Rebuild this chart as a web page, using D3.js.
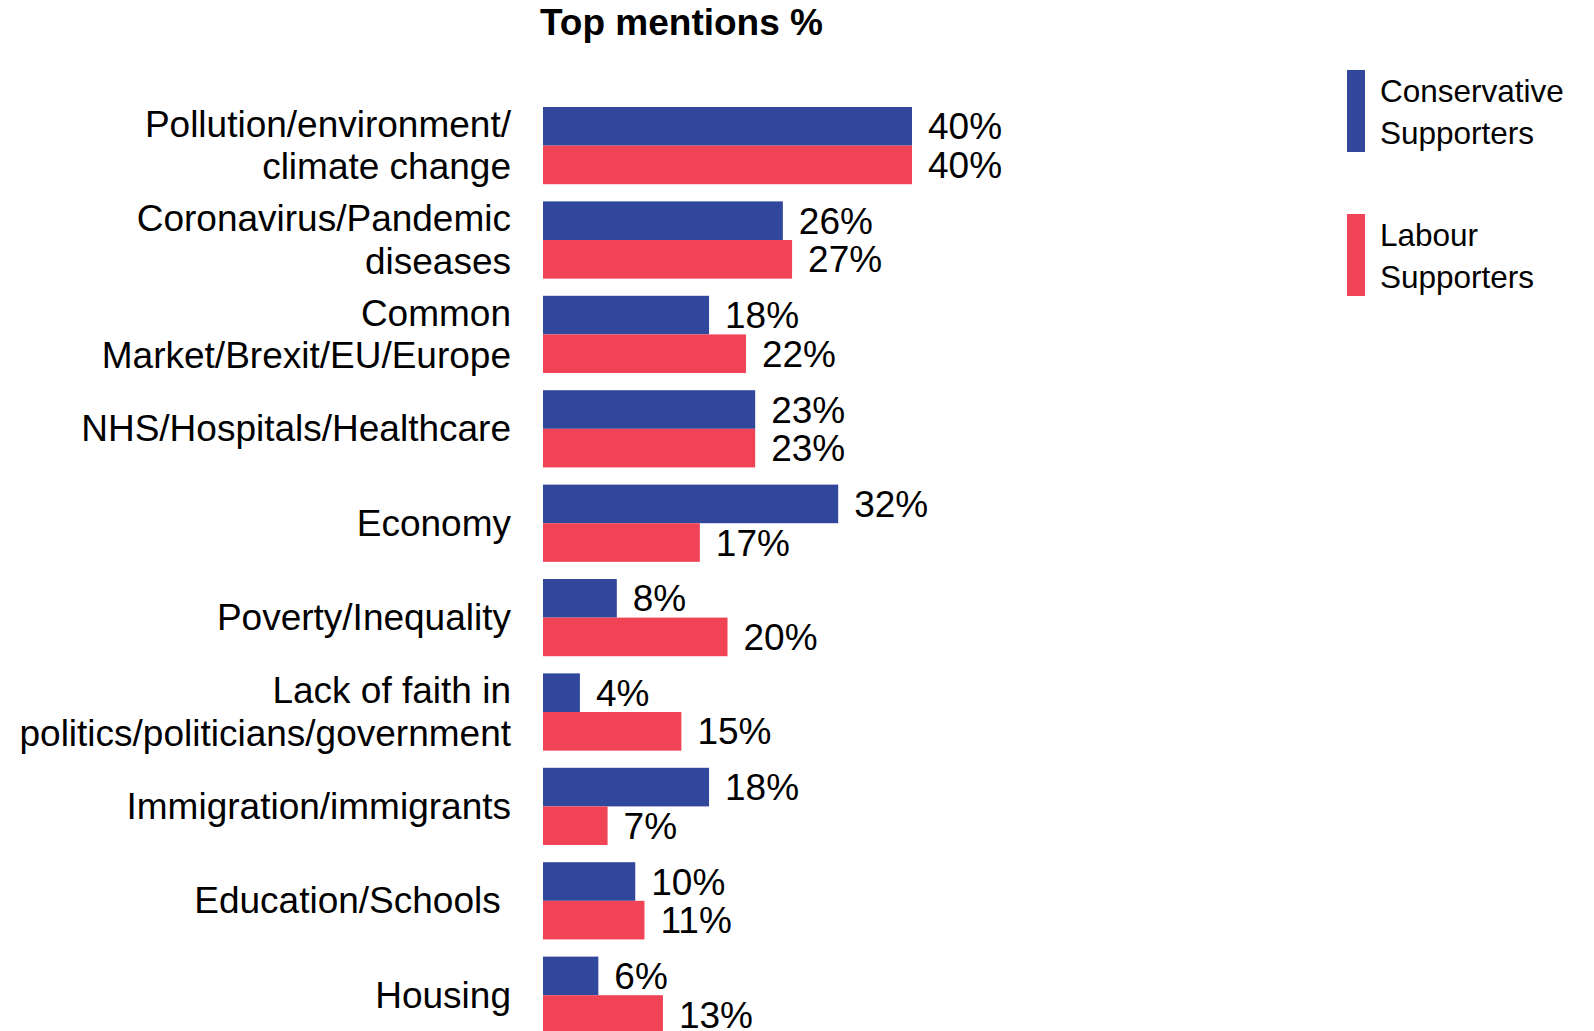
<!DOCTYPE html>
<html>
<head>
<meta charset="utf-8">
<script src="https://cdn.jsdelivr.net/npm/d3@7"></script>
<style>
  html, body { margin: 0; padding: 0; background: #ffffff; }
  svg { display: block; font-family: Arial, "Liberation Sans", sans-serif; }
  text { white-space: pre; }
</style>
</head>
<body>
<svg id="chart" width="1594" height="1031"></svg>
<script>
const categories = [
  ["Pollution/environment/", "climate change"],
  ["Coronavirus/Pandemic", "diseases"],
  ["Common", "Market/Brexit/EU/Europe"],
  ["NHS/Hospitals/Healthcare"],
  ["Economy"],
  ["Poverty/Inequality"],
  ["Lack of faith in", "politics/politicians/government"],
  ["Immigration/immigrants"],
  ["Education/Schools "],
  ["Housing"]
];
const seriesNames = ["Conservative Supporters", "Labour Supporters"];
const legendLines = [["Conservative", "Supporters"], ["Labour", "Supporters"]];
const conservative = [40, 26, 18, 23, 32, 8, 4, 18, 10, 6];
const labour = [40, 27, 22, 23, 17, 20, 15, 7, 11, 13];
const colors = ["#30479B", "#F04356"];
const title = "Top mentions %";

const svg = d3.select("#chart");
const keys = categories.map((c, i) => i);
const values = [conservative, labour];

const x = d3.scaleLinear().domain([0, 40]).range([543, 912]);
const pad = 0.182;
const step = 94.4;
const y0 = d3.scaleBand().domain(keys)
  .range([107 - pad / 2 * step, 107 - pad / 2 * step + 10 * step])
  .paddingInner(pad).paddingOuter(pad / 2);
const y1 = d3.scaleBand().domain([0, 1]).range([0, y0.bandwidth()]);

// title
svg.append("text")
  .attr("x", 540).attr("y", 35)
  .attr("font-size", 37).attr("font-weight", "bold").attr("fill", "#000")
  .text(title);

// bars and value labels
const groups = svg.selectAll("g.grp").data(keys).join("g")
  .attr("class", "grp")
  .attr("transform", d => `translate(0,${y0(d)})`);

groups.selectAll("rect").data(d => [0, 1].map(s => ({ s, v: values[s][d] }))).join("rect")
  .attr("x", x(0))
  .attr("y", d => y1(d.s))
  .attr("width", d => x(d.v) - x(0))
  .attr("height", y1.bandwidth())
  .attr("fill", d => colors[d.s]);

groups.selectAll("text.val").data(d => [0, 1].map(s => ({ s, v: values[s][d] }))).join("text")
  .attr("class", "val")
  .attr("x", d => x(d.v) + 16)
  .attr("y", d => y1(d.s) + y1.bandwidth() / 2 + 13)
  .attr("font-size", 37).attr("fill", "#000")
  .text(d => d.v + "%");

// category labels
const lineH = 42.5;
groups.each(function (d) {
  const lines = categories[d];
  const g = d3.select(this);
  const c = y0.bandwidth() / 2;
  lines.forEach((ln, j) => {
    g.append("text")
      .attr("x", 511)
      .attr("y", c + (j - (lines.length - 1) / 2) * lineH + 12.5)
      .attr("text-anchor", "end")
      .attr("font-size", 37).attr("fill", "#000")
      .text(ln);
  });
});

// legend
const legendTops = [70, 214];
seriesNames.forEach((name, i) => {
  const g = svg.append("g").attr("class", "legend-item").attr("data-name", name);
  g.append("rect")
    .attr("x", 1347).attr("y", legendTops[i])
    .attr("width", 18).attr("height", 82)
    .attr("fill", colors[i]);
  legendLines[i].forEach((ln, j) => {
    g.append("text")
      .attr("x", 1380).attr("y", legendTops[i] + 32 + j * 42)
      .attr("font-size", 31.5).attr("fill", "#000")
      .text(ln);
  });
});
</script>
</body>
</html>
